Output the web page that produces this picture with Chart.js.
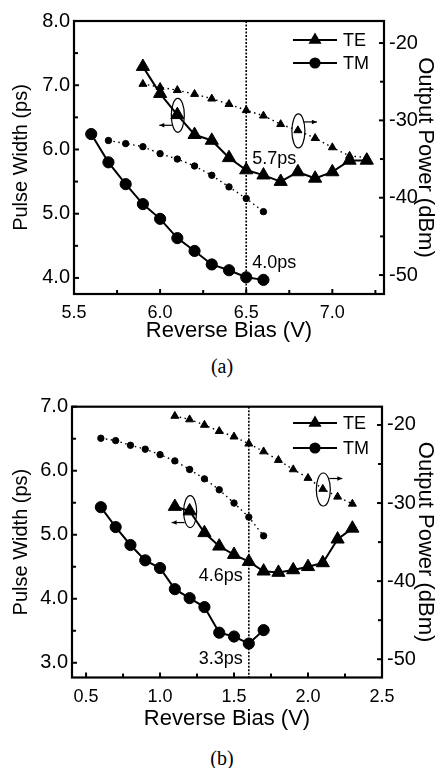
<!DOCTYPE html>
<html><head><meta charset="utf-8">
<script src="https://cdn.jsdelivr.net/npm/chart.js@4.4.1/dist/chart.umd.min.js"></script>
<style>
html,body{margin:0;padding:0;background:#fff;width:444px;height:768px;overflow:hidden;}
.wrap{position:absolute;left:0;width:444px;}
.cap{position:absolute;left:0;width:444px;text-align:center;font-family:"Liberation Serif","Times New Roman",serif;font-size:20px;line-height:24px;color:#000;}
</style></head><body>
<div class="wrap" style="top:0;height:345px"><canvas id="ca" width="444" height="345"></canvas></div>
<div class="cap" style="top:354px">(a)</div>
<div class="wrap" style="top:378px;height:362px"><canvas id="cb" width="444" height="362"></canvas></div>
<div class="cap" style="top:746px">(b)</div>
<script>
const FONT = "'Liberation Sans', Arial, Helvetica, sans-serif";

// ---------- panel (a) ----------
const biasA_TE = [5.9, 6.0, 6.1, 6.2, 6.3, 6.4, 6.5, 6.6, 6.7, 6.8, 6.9, 7.0, 7.1, 7.2];
const pwA_TE   = [7.29, 6.87, 6.54, 6.23, 6.14, 5.87, 5.68, 5.60, 5.50, 5.65, 5.55, 5.65, 5.83, 5.83];
const powA_TE  = [-25.3, -25.7, -26.1, -26.6, -27.2, -27.9, -28.7, -29.4, -30.5, -31.3, -32.3, -33.5, -34.6, -34.8];
const biasA_TMpw = [5.6, 5.7, 5.8, 5.9, 6.0, 6.1, 6.2, 6.3, 6.4, 6.5, 6.6];
const pwA_TM     = [6.24, 5.80, 5.46, 5.15, 4.92, 4.62, 4.42, 4.21, 4.12, 4.01, 3.97];
const biasA_TMpow = [5.7, 5.8, 5.9, 6.0, 6.1, 6.2, 6.3, 6.4, 6.5, 6.6];
const powA_TM     = [-32.6, -33.0, -33.4, -34.3, -35.0, -35.9, -37.1, -38.6, -40.1, -41.8];
const xTicksA  = [5.5, 6.0, 6.5, 7.0];
const xLabelsA = ['5.5', '6.0', '6.5', '7.0'];
const yTicksA  = [4.0, 5.0, 6.0, 7.0, 8.0];
const yLabelsA = ['4.0', '5.0', '6.0', '7.0', '8.0'];
const y2TicksA  = [-50, -40, -30, -20];
const y2LabelsA = ['-50', '-40', '-30', '-20'];
const markA = 6.5;

// ---------- panel (b) ----------
const biasB_TE = [1.1, 1.2, 1.3, 1.4, 1.5, 1.6, 1.7, 1.8, 1.9, 2.0, 2.1, 2.2, 2.3];
const pwB_TE   = [5.44, 5.37, 5.03, 4.82, 4.69, 4.58, 4.43, 4.41, 4.45, 4.50, 4.56, 4.93, 5.10];
const powB_TE  = [-18.85, -19.3, -20.0, -20.8, -21.5, -22.4, -23.4, -24.5, -25.7, -26.8, -28.2, -29.2, -30.1];
const biasB_TM = [0.6, 0.7, 0.8, 0.9, 1.0, 1.1, 1.2, 1.3, 1.4, 1.5, 1.6, 1.7];
const pwB_TM   = [5.43, 5.12, 4.84, 4.60, 4.48, 4.15, 4.01, 3.87, 3.47, 3.41, 3.30, 3.51];
const powB_TM  = [-21.7, -22.0, -22.6, -23.1, -23.8, -24.6, -25.7, -26.9, -28.3, -30.0, -31.8, -34.2];
const xTicksB  = [0.5, 1.0, 1.5, 2.0, 2.5];
const xLabelsB = ['0.5', '1.0', '1.5', '2.0', '2.5'];
const yTicksB  = [3.0, 4.0, 5.0, 6.0, 7.0];
const yLabelsB = ['3.0', '4.0', '5.0', '6.0', '7.0'];
const y2TicksB  = [-50, -40, -30, -20];
const y2LabelsB = ['-50', '-40', '-30', '-20'];
const markB = 1.6;

function pts(xs, ys) { return xs.map((x, i) => ({x: x, y: ys[i]})); }
function valAt(xs, ys, x) { return ys[xs.indexOf(x)]; }

function minors(majors, min, max) {
  const out = [];
  const step = majors[1] - majors[0];
  for (let i = 0; i < majors.length - 1; i++) out.push((majors[i] + majors[i + 1]) / 2);
  const lo = majors[0] - step / 2, hi = majors[majors.length - 1] + step / 2;
  if (lo >= min) out.push(lo);
  if (hi <= max) out.push(hi);
  return out;
}

function arrow(ctx, x0, y, x1) {
  ctx.beginPath(); ctx.moveTo(x0, y); ctx.lineTo(x1, y); ctx.stroke();
  const d = x1 > x0 ? 1 : -1;
  ctx.beginPath(); ctx.moveTo(x1, y); ctx.lineTo(x1 - d * 5, y - 2.2); ctx.lineTo(x1 - d * 5, y + 2.2); ctx.closePath(); ctx.fill();
}

function marker(ctx, style, x, y, r) {
  ctx.beginPath();
  if (style === 'triangle') {
    for (let k = 0; k < 3; k++) {
      const a = k * 2 * Math.PI / 3;
      const px = x + Math.sin(a) * r, py = y - Math.cos(a) * r;
      if (k === 0) ctx.moveTo(px, py); else ctx.lineTo(px, py);
    }
    ctx.closePath();
  } else {
    ctx.arc(x, y, r, 0, Math.PI * 2);
  }
  ctx.fill();
}

const decoPlugin = {
  id: 'deco',
  beforeDatasetsDraw(chart, args, o) {
    const {ctx, chartArea: a, scales: {x}} = chart;
    ctx.save();
    ctx.strokeStyle = '#000'; ctx.lineWidth = 1.6; ctx.setLineDash([2, 1.5]);
    const px = x.getPixelForValue(o.mark);
    ctx.beginPath(); ctx.moveTo(px, a.top); ctx.lineTo(px, a.bottom); ctx.stroke();
    ctx.restore();
  },
  afterDatasetsDraw(chart, args, o) {
    const {ctx, chartArea: a, scales: {x, y, y2}} = chart;
    ctx.save();
    ctx.strokeStyle = '#000'; ctx.fillStyle = '#000';
    // frame
    ctx.lineWidth = 2.2;
    ctx.strokeRect(a.left, a.top, a.right - a.left, a.bottom - a.top);
    // ticks (inward)
    ctx.lineWidth = 2;
    const tickX = (v, len) => { const p = x.getPixelForValue(v); ctx.beginPath(); ctx.moveTo(p, a.bottom); ctx.lineTo(p, a.bottom - len); ctx.stroke(); };
    const tickY = (v, len) => { const p = y.getPixelForValue(v); ctx.beginPath(); ctx.moveTo(a.left, p); ctx.lineTo(a.left + len, p); ctx.stroke(); };
    const tickY2 = (v, len) => { const p = y2.getPixelForValue(v); ctx.beginPath(); ctx.moveTo(a.right, p); ctx.lineTo(a.right - len, p); ctx.stroke(); };
    o.xt.forEach(v => tickX(v, 5)); minors(o.xt, x.min, x.max).forEach(v => tickX(v, 4));
    o.yt.forEach(v => tickY(v, 5)); minors(o.yt, y.min, y.max).forEach(v => tickY(v, 4));
    o.y2t.forEach(v => tickY2(v, 5)); minors(o.y2t, y2.min, y2.max).forEach(v => tickY2(v, 4));
    // legend
    ctx.lineWidth = 2;
    o.legend.forEach(l => {
      ctx.beginPath(); ctx.moveTo(l.x0, l.y); ctx.lineTo(l.x1, l.y); ctx.stroke();
      marker(ctx, l.style, (l.x0 + l.x1) / 2, l.y, l.r);
      ctx.font = '18px ' + FONT; ctx.textAlign = 'left'; ctx.textBaseline = 'middle';
      ctx.fillText(l.text, l.x1 + 6, l.y + 1);
    });
    // value labels
    ctx.font = '18px ' + FONT; ctx.textBaseline = 'middle';
    o.labels.forEach(t => {
      const px = x.getPixelForValue(t.x), py = y.getPixelForValue(t.y);
      ctx.textAlign = t.align;
      ctx.fillText(t.text, px + t.dx, py + t.dy);
    });
    // ellipses + arrows
    ctx.lineWidth = 1.2;
    o.ellipses.forEach(e => {
      const sc = e.axis === 'y2' ? y2 : y;
      const cx = x.getPixelForValue(e.x) + 0.5, cy = sc.getPixelForValue(e.y) + 0.5;
      ctx.beginPath(); ctx.ellipse(cx, cy, e.rx, e.ry, 0, 0, Math.PI * 2); ctx.stroke();
      if (e.dir < 0) arrow(ctx, cx - e.rx + 1, cy + e.ady, cx - e.rx - 12);
      else arrow(ctx, cx + e.rx - 1, cy + e.ady, cx + e.rx + 12);
    });
    ctx.restore();
  }
};

function makeChart(id, d) {
  const ds = (data, axis, style, r, thick) => ({
    data: data, yAxisID: axis, showLine: true,
    borderColor: '#000', backgroundColor: '#000',
    borderWidth: thick ? 2 : 1.4, borderDash: thick ? [] : [1.5, 3.5],
    pointStyle: style, pointRadius: r, pointHoverRadius: r,
    pointBackgroundColor: '#000', pointBorderColor: '#000', pointBorderWidth: 1,
    tension: 0
  });
  const fix = (w, h) => (s) => {
    if (w !== null) s.width = w;
    if (h !== null) s.height = h;
    s.paddingLeft = 0; s.paddingRight = 0; s.paddingTop = 0; s.paddingBottom = 0;
  };
  return new Chart(document.getElementById(id), {
    type: 'scatter',
    data: {datasets: [
      ds(d.tmPow, 'y2', 'circle', 3.2, false),
      ds(d.tePow, 'y2', 'triangle', 4.6, false),
      ds(d.tmPw, 'y', 'circle', 5.6, true),
      ds(d.tePw, 'y', 'triangle', 7.6, true)
    ]},
    plugins: [decoPlugin],
    options: {
      responsive: false, animation: false, events: [],
      layout: {padding: {top: d.padTop, left: 0, right: 0, bottom: 0}},
      plugins: {
        legend: {display: false}, tooltip: {enabled: false},
        deco: {mark: d.mark, xt: d.xt, yt: d.yt, y2t: d.y2t, legend: d.legend, labels: d.labels, ellipses: d.ellipses}
      },
      scales: {
        x: {
          type: 'linear', position: 'bottom', min: d.xmin, max: d.xmax,
          grid: {display: false, drawTicks: false}, border: {display: false},
          afterBuildTicks: s => { s.ticks = d.xt.map(v => ({value: v})); },
          afterFit: fix(null, d.xh),
          ticks: {autoSkip: false, maxRotation: 0, padding: d.xtp, color: '#000', font: {family: FONT, size: 18},
                  callback: (v, i) => d.xl[i]},
          title: {display: true, text: 'Reverse Bias (V)', color: '#000', font: {family: FONT, size: 22}, padding: {top: 0, bottom: d.xtitle}}
        },
        y: {
          type: 'linear', position: 'left', min: d.ymin, max: d.ymax,
          grid: {display: false, drawTicks: false}, border: {display: false},
          afterBuildTicks: s => { s.ticks = d.yt.map(v => ({value: v})); },
          afterFit: fix(d.lw, null),
          ticks: {autoSkip: false, padding: 4, color: '#000', font: {family: FONT, size: 20},
                  callback: (v, i) => d.yl[i]},
          title: {display: true, text: 'Pulse Width (ps)', color: '#000', font: {family: FONT, size: 20}, padding: {top: 9, bottom: 0}}
        },
        y2: {
          type: 'linear', position: 'right', min: d.y2min, max: d.y2max,
          grid: {display: false, drawTicks: false}, border: {display: false},
          afterBuildTicks: s => { s.ticks = d.y2t.map(v => ({value: v})); },
          afterFit: fix(d.rw, null),
          ticks: {autoSkip: false, padding: 5, color: '#000', font: {family: FONT, size: 20},
                  callback: (v, i) => d.y2l[i]},
          title: {display: true, text: 'Output Power (dBm)', color: '#000', font: {family: FONT, size: 22}, padding: {top: 6, bottom: 0}}
        }
      }
    }
  });
}

makeChart('ca', {
  tePw: pts(biasA_TE, pwA_TE), tePow: pts(biasA_TE, powA_TE),
  tmPw: pts(biasA_TMpw, pwA_TM), tmPow: pts(biasA_TMpow, powA_TM),
  xmin: 5.5, xmax: 7.3, ymin: 3.75, ymax: 8.0, y2min: -52.45, y2max: -17.15,
  xt: xTicksA, xl: xLabelsA, yt: yTicksA, yl: yLabelsA, y2t: y2TicksA, y2l: y2LabelsA,
  padTop: 21, lw: 74, rw: 60, xh: 51, xtp: 8, xtitle: 1, mark: markA,
  legend: [
    {x0: 293, x1: 337, y: 40, style: 'triangle', r: 7.6, text: 'TE'},
    {x0: 293, x1: 337, y: 63, style: 'circle', r: 5.6, text: 'TM'}
  ],
  labels: [
    {text: '5.7ps', x: markA, y: valAt(biasA_TE, pwA_TE, markA), dx: 6, dy: -11, align: 'left'},
    {text: '4.0ps', x: markA, y: valAt(biasA_TMpw, pwA_TM, markA), dx: 6, dy: -14, align: 'left'}
  ],
  ellipses: [
    {x: 6.1, y: valAt(biasA_TE, pwA_TE, 6.1), axis: 'y', rx: 6.5, ry: 17, dir: -1, ady: 10},
    {x: 6.8, y: valAt(biasA_TE, powA_TE, 6.8), axis: 'y2', rx: 6.5, ry: 17, dir: 1, ady: -9}
  ]
});

makeChart('cb', {
  tePw: pts(biasB_TE, pwB_TE), tePow: pts(biasB_TE, powB_TE),
  tmPw: pts(biasB_TM, pwB_TM), tmPow: pts(biasB_TM, powB_TM),
  xmin: 0.405, xmax: 2.5, ymin: 2.77, ymax: 7.0, y2min: -52.34, y2max: -17.66,
  xt: xTicksB, xl: xLabelsB, yt: yTicksB, yl: yLabelsB, y2t: y2TicksB, y2l: y2LabelsB,
  padTop: 28.7, lw: 72, rw: 62, xh: 62.5, xtp: 9, xtitle: 8, mark: markB,
  legend: [
    {x0: 293, x1: 337, y: 45, style: 'triangle', r: 7.6, text: 'TE'},
    {x0: 293, x1: 337, y: 70, style: 'circle', r: 5.6, text: 'TM'}
  ],
  labels: [
    {text: '4.6ps', x: markB, y: valAt(biasB_TE, pwB_TE, markB), dx: -6, dy: 14, align: 'right'},
    {text: '3.3ps', x: markB, y: valAt(biasB_TM, pwB_TM, markB), dx: -6, dy: 15, align: 'right'}
  ],
  ellipses: [
    {x: 1.2, y: valAt(biasB_TE, pwB_TE, 1.2), axis: 'y', rx: 6.5, ry: 16, dir: -1, ady: 11},
    {x: 2.1, y: valAt(biasB_TE, powB_TE, 2.1), axis: 'y2', rx: 7, ry: 16.5, dir: 1, ady: -11}
  ]
});
</script>
</body></html>
